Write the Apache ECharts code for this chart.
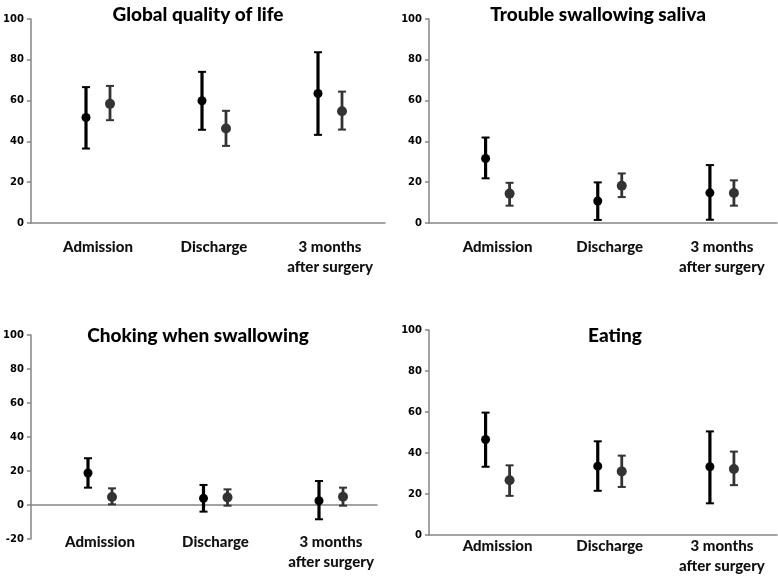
<!DOCTYPE html>
<html>
<head>
<meta charset="utf-8">
<script src="https://cdn.jsdelivr.net/npm/echarts@6/dist/echarts.min.js"></script>
<style>html,body{margin:0;padding:0;background:#fff}#c{width:778px;height:576px}</style>
</head>
<body>
<div id="c"></div>
<script>
// ---- Data ----
const categories = ['Admission', 'Discharge', '3 months\nafter surgery'];
const panelTitles = ['Global quality of life', 'Trouble swallowing saliva', 'Choking when swallowing', 'Eating'];

// Global quality of life
const qolBlackMean = [51.7, 59.9, 63.5];
const qolBlackLow  = [36.5, 45.7, 43.2];
const qolBlackHigh = [66.6, 74.1, 83.7];
const qolGreyMean  = [58.4, 46.3, 54.8];
const qolGreyLow   = [50.4, 37.8, 45.8];
const qolGreyHigh  = [67.2, 55.0, 64.4];

// Trouble swallowing saliva
const salBlackMean = [31.6, 10.8, 14.8];
const salBlackLow  = [21.9, 1.5, 1.6];
const salBlackHigh = [41.9, 19.9, 28.4];
const salGreyMean  = [14.4, 18.3, 14.7];
const salGreyLow   = [8.5, 12.7, 8.5];
const salGreyHigh  = [19.7, 24.3, 20.9];

// Choking when swallowing
const chkBlackMean = [18.8, 3.9, 2.5];
const chkBlackLow  = [10.2, -3.9, -8.4];
const chkBlackHigh = [27.5, 11.8, 14.1];
const chkGreyMean  = [4.7, 4.5, 4.9];
const chkGreyLow   = [0.4, -0.4, -0.4];
const chkGreyHigh  = [9.8, 9.2, 10.2];

// Eating
const eatBlackMean = [45.8, 32.6, 32.3];
const eatBlackLow  = [32.3, 20.4, 14.2];
const eatBlackHigh = [59.1, 44.9, 49.8];
const eatGreyMean  = [25.6, 30.0, 31.2];
const eatGreyLow   = [17.9, 22.3, 23.2];
const eatGreyHigh  = [33.0, 37.8, 39.8];

const yMin = [0, 0, -20, 0];
const yMax = [100, 100, 100, 100];
const yInterval = 20;

// ---- Layout ----
const panels = [
  {frame:{left:29, top:19, width:356, height:204}, data:{left:40, top:19, width:348, height:204}, margin:14, title:{x:193, y:0},
   bm:qolBlackMean, bl:qolBlackLow, bh:qolBlackHigh, gm:qolGreyMean, gl:qolGreyLow, gh:qolGreyHigh},
  {frame:{left:429, top:19, width:348, height:204}, data:{left:441.5, top:19, width:346.5, height:204}, margin:14, title:{x:593, y:0},
   bm:salBlackMean, bl:salBlackLow, bh:salBlackHigh, gm:salGreyMean, gl:salGreyLow, gh:salGreyHigh},
  {frame:{left:29, top:335, width:348, height:204}, data:{left:42.25, top:335, width:346.5, height:204}, margin:-7, title:{x:193, y:321},
   bm:chkBlackMean, bl:chkBlackLow, bh:chkBlackHigh, gm:chkGreyMean, gl:chkGreyLow, gh:chkGreyHigh},
  {frame:{left:429, top:330, width:348, height:205}, data:{left:441.5, top:330, width:346.5, height:205}, margin:4, title:{x:610, y:321},
   bm:eatBlackMean, bl:eatBlackLow, bh:eatBlackHigh, gm:eatGreyMean, gl:eatGreyLow, gh:eatGreyHigh}
];

const BLACK = '#000000', GREY = '#333333';
const OFF = 12;

function errRender(offset, color, lw) {
  return function (params, api) {
    const i = api.value(0);
    const pLo = api.coord([i, api.value(1)]);
    const pHi = api.coord([i, api.value(2)]);
    const x = pLo[0] + offset;
    const cw = 4;
    return {
      type: 'group',
      children: [
        {type:'line', shape:{x1:x, y1:pLo[1], x2:x, y2:pHi[1]}, style:{stroke:color, lineWidth:lw}},
        {type:'line', shape:{x1:x-cw, y1:pLo[1], x2:x+cw, y2:pLo[1]}, style:{stroke:color, lineWidth:2}},
        {type:'line', shape:{x1:x-cw, y1:pHi[1], x2:x+cw, y2:pHi[1]}, style:{stroke:color, lineWidth:2}}
      ]
    };
  };
}

const grid = [], xAxis = [], yAxis = [], series = [], title = [];
panels.forEach((p, k) => {
  const gf = grid.length; grid.push(p.frame);
  const gd = grid.length; grid.push(p.data);
  title.push({text: panelTitles[k], left: p.title.x, top: p.title.y, textAlign: 'center',
    textStyle: {fontFamily: 'Lato', fontWeight: 900, fontSize: 19, color: '#000'}});
  // frame axes
  xAxis.push({type:'value', gridIndex:gf, min:0, max:1, axisLabel:{show:false}, axisTick:{show:false}, splitLine:{show:false},
    axisLine:{show:true, onZero:true, lineStyle:{color:'#858585', width:1.5}}});
  yAxis.push({type:'value', gridIndex:gf, min:yMin[k], max:yMax[k], interval:yInterval, splitLine:{show:false},
    axisLine:{show:true, lineStyle:{color:'#858585', width:1.5}},
    axisTick:{show:true, length:4, lineStyle:{color:'#858585', width:1.5}},
    axisLabel:{fontFamily:'DejaVu Sans', fontWeight:'bold', fontSize:10, color:'#000', margin:7}});
  // data axes
  const xd = xAxis.length;
  xAxis.push({type:'category', gridIndex:gd, data:categories, boundaryGap:true,
    axisLine:{show:false, onZero:false}, axisTick:{show:false}, splitLine:{show:false},
    axisLabel:{fontFamily:'Lato', fontWeight:900, fontSize:15, color:'#111', lineHeight:20, margin:p.margin, interval:0}});
  const yd = yAxis.length;
  yAxis.push({type:'value', gridIndex:gd, min:yMin[k], max:yMax[k], interval:yInterval, show:false});

  const mk = (lo, hi) => categories.map((c, i) => [i, lo[i], hi[i]]);
  const mp = (m) => categories.map((c, i) => [i, m[i]]);
  series.push({type:'custom', xAxisIndex:xd, yAxisIndex:yd, renderItem:errRender(-OFF, BLACK, 3.2), data:mk(p.bl, p.bh), z:2});
  series.push({type:'custom', xAxisIndex:xd, yAxisIndex:yd, renderItem:errRender(OFF, GREY, 2.8), data:mk(p.gl, p.gh), z:2});
  series.push({type:'scatter', xAxisIndex:xd, yAxisIndex:yd, data:mp(p.bm), symbol:'circle', symbolSize:9,
    symbolOffset:[-OFF, 0], itemStyle:{color:BLACK, opacity:1}, z:3});
  series.push({type:'scatter', xAxisIndex:xd, yAxisIndex:yd, data:mp(p.gm), symbol:'circle', symbolSize:10,
    symbolOffset:[OFF, 0], itemStyle:{color:GREY, opacity:1}, z:3});
});

const chart = echarts.init(document.getElementById('c'), null, {renderer:'canvas'});
chart.setOption({animation:false, backgroundColor:'#fff', title, grid, xAxis, yAxis, series});
</script>
</body>
</html>
